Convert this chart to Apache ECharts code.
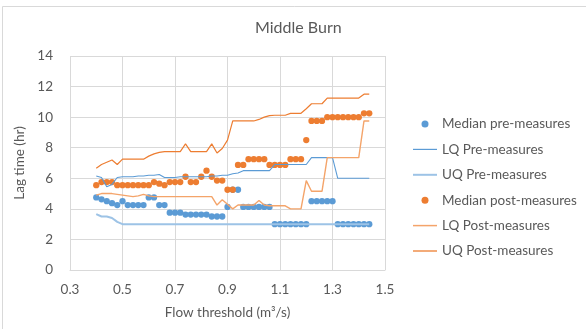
<!DOCTYPE html>
<html>
<head>
<meta charset="utf-8">
<script src="https://cdn.jsdelivr.net/npm/echarts@6/dist/echarts.min.js"></script>
<style>
html,body{margin:0;padding:0;background:#fff;}
#chart{width:586px;height:329px;}
</style>
</head>
<body>
<div id="chart"></div>
<script>
// Flow thresholds (m3/s)
var flowThreshold = [0.40,0.42,0.44,0.46,0.48,0.50,0.52,0.54,0.56,0.58,0.60,0.62,0.64,0.66,0.68,0.70,0.72,0.74,0.76,0.78,0.80,0.82,0.84,0.86,0.88,0.90,0.92,0.94,0.96,0.98,1.00,1.02,1.04,1.06,1.08,1.10,1.12,1.14,1.16,1.18,1.20,1.22,1.24,1.26,1.28,1.30,1.32,1.34,1.36,1.38,1.40,1.42,1.44];

var medianPre = [4.75,4.625,4.5,4.375,4.25,4.5,4.25,4.25,4.25,4.25,4.75,4.75,4.25,4.25,3.75,3.75,3.75,3.625,3.625,3.625,3.625,3.625,3.5,3.5,3.5,4.125,5.25,5.25,4.125,4.125,4.125,4.125,4.125,4.125,3.0,3.0,3.0,3.0,3.0,3.0,3.0,4.5,4.5,4.5,4.5,4.5,3.0,3.0,3.0,3.0,3.0,3.0,3.0];

var lqPre = [6.15,6.05,5.45,5.6,6.05,6.1,6.1,6.1,6.15,6.15,6.2,6.2,6.25,6.05,6.05,6.05,6.1,6.1,6.1,6.1,6.1,6.1,6.15,6.15,6.2,6.2,6.3,6.35,6.5,6.5,6.5,6.5,6.5,6.5,6.9,6.9,6.9,6.9,6.9,6.9,6.9,7.35,7.35,7.35,7.35,7.35,6.0,6.0,6.0,6.0,6.0,6.0,6.0];

var uqPre = [3.65,3.5,3.5,3.4,3.15,3.0,3.0,3.0,3.0,3.0,3.0,3.0,3.0,3.0,3.0,3.0,3.0,3.0,3.0,3.0,3.0,3.0,3.0,3.0,3.0,3.0,3.0,3.0,3.0,3.0,3.0,3.0,3.0,3.0,3.0,3.0,3.0,3.0,3.0,3.0,3.0,3.0,3.0,3.0,3.0,3.0,3.0,3.0,3.0,3.0,3.0,3.0,3.0];

var medianPost = [5.55,5.75,5.75,5.75,5.55,5.55,5.55,5.55,5.55,5.55,5.55,5.75,5.65,5.55,5.75,5.75,5.75,6.1,5.75,5.75,6.1,6.5,6.1,5.85,5.85,5.25,5.25,6.875,6.875,7.25,7.25,7.25,7.25,6.875,6.875,6.875,6.875,7.25,7.25,7.25,8.5,9.75,9.75,9.75,10.0,10.0,10.0,10.0,10.0,10.0,10.0,10.25,10.25];

var lqPost = [4.9,5.0,5.0,5.0,4.95,4.9,4.85,4.8,4.85,4.95,4.85,4.8,4.8,4.8,4.8,4.8,4.8,4.8,4.8,4.8,4.8,4.8,4.8,4.25,4.6,4.3,4.0,4.25,4.25,4.25,4.25,4.55,4.25,4.2,4.2,4.2,4.2,4.0,4.0,4.0,5.85,5.15,5.15,5.15,7.35,7.35,7.35,7.35,7.35,7.35,7.35,9.75,9.75];

var uqPost = [6.65,6.9,7.05,7.2,6.9,7.25,7.25,7.25,7.25,7.25,7.45,7.6,7.7,7.75,7.75,7.75,7.75,8.25,7.75,7.75,7.75,7.75,8.25,7.65,7.95,8.5,9.75,9.75,9.75,9.75,9.75,9.85,10.0,10.1,10.125,10.125,10.125,10.25,10.25,10.25,10.55,10.875,10.875,10.875,11.25,11.25,11.25,11.25,11.25,11.25,11.25,11.5,11.5];

var yTicks = [0,2,4,6,8,10,12,14];
var xTicks = [0.3,0.5,0.7,0.9,1.1,1.3,1.5];

function pairs(ys){ return flowThreshold.map(function(x,i){ return [x, ys[i]]; }); }
function lineIcon(w){ return 'path://M0,0H24V' + w + 'H0Z'; }

var FONT = 'Lato';
var TXT = '#595959';
var GRID = '#D9D9D9';

var chart = echarts.init(document.getElementById('chart'), null, {renderer:'canvas'});
chart.setOption({
  animation: false,
  backgroundColor: '#fff',
  textStyle: {fontFamily: FONT},
  title: {
    text: 'Middle Burn', left: 250, top: 15,
    textStyle: {fontFamily: FONT, fontSize: 16, fontWeight: 'normal', color: TXT}
  },
  graphic: [{
    type: 'rect', silent: true, z: -1,
    shape: {x: 2.5, y: 6.5, width: 620, height: 400},
    style: {fill: 'none', stroke: GRID, lineWidth: 1}
  }],
  grid: {left: 70, right: 201, top: 56, bottom: 59, containLabel: false},
  legend: {
    orient: 'vertical', left: 413, top: 116, padding: 0,
    itemWidth: 24, itemHeight: 7, itemGap: 9.4,
    textStyle: {fontFamily: FONT, fontSize: 13.5, color: TXT, lineHeight: 16},
    data: [
      {name: 'Median pre-measures', icon: 'circle'},
      {name: 'LQ Pre-measures', icon: lineIcon(1.2)},
      {name: 'UQ Pre-measures', icon: lineIcon(2)},
      {name: 'Median post-measures', icon: 'circle'},
      {name: 'LQ Post-measures', icon: lineIcon(1.5)},
      {name: 'UQ Post-measures', icon: lineIcon(1.3)}
    ]
  },
  xAxis: {
    type: 'value', min: xTicks[0], max: xTicks[xTicks.length-1], interval: 0.2,
    axisLine: {show: true, lineStyle: {color: GRID, width: 1}},
    axisTick: {show: false},
    splitLine: {show: true, lineStyle: {color: GRID, width: 1}},
    axisLabel: {color: TXT, fontFamily: FONT, fontSize: 13.5, margin: 13,
      formatter: function(v){ return (Math.round(v*10)/10).toFixed(1); }},
    name: 'Flow threshold (m\u00B3/s)', nameLocation: 'middle', nameGap: 36,
    nameTextStyle: {color: TXT, fontFamily: FONT, fontSize: 13.5}
  },
  yAxis: {
    type: 'value', min: yTicks[0], max: yTicks[yTicks.length-1], interval: 2,
    axisLine: {show: false}, axisTick: {show: false},
    splitLine: {show: true, lineStyle: {color: GRID, width: 1}},
    axisLabel: {color: TXT, fontFamily: FONT, fontSize: 13.5, margin: 17},
    name: 'Lag time (hr)', nameLocation: 'middle', nameGap: 40, nameRotate: 90,
    nameTextStyle: {color: TXT, fontFamily: FONT, fontSize: 13.5}
  },
  series: [
    {name: 'Median pre-measures', type: 'scatter', data: pairs(medianPre), symbol: 'circle', symbolSize: 6.3,
      itemStyle: {color: '#5B9BD5', opacity: 1}},
    {name: 'LQ Pre-measures', type: 'line', data: pairs(lqPre), symbol: 'none',
      lineStyle: {color: '#5B9BD5', width: 1.1}, itemStyle: {color: '#5B9BD5'}},
    {name: 'UQ Pre-measures', type: 'line', data: pairs(uqPre), symbol: 'none',
      lineStyle: {color: '#9DC3E6', width: 2}, itemStyle: {color: '#9DC3E6'}},
    {name: 'Median post-measures', type: 'scatter', data: pairs(medianPost), symbol: 'circle', symbolSize: 6.3,
      itemStyle: {color: '#ED7D31', opacity: 1}},
    {name: 'LQ Post-measures', type: 'line', data: pairs(lqPost), symbol: 'none',
      lineStyle: {color: '#F4A46A', width: 1.4}, itemStyle: {color: '#F4A46A'}},
    {name: 'UQ Post-measures', type: 'line', data: pairs(uqPost), symbol: 'none',
      lineStyle: {color: '#ED7D31', width: 1.2}, itemStyle: {color: '#ED7D31'}}
  ]
});
</script>
</body>
</html>
